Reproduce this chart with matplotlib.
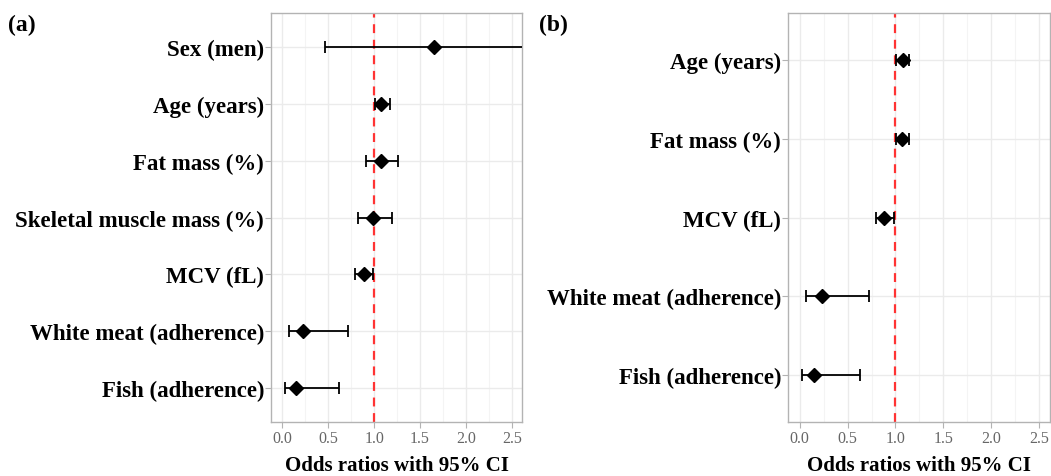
import numpy as np
import matplotlib
matplotlib.use('Agg')
import matplotlib.pyplot as plt
from matplotlib.ticker import MultipleLocator

# panel (a)
labels_a = ["Sex (men)", "Age (years)", "Fat mass (%)", "Skeletal muscle mass (%)",
            "MCV (fL)", "White meat (adherence)", "Fish (adherence)"]
or_a = [1.65, 1.08, 1.08, 0.99, 0.89, 0.23, 0.15]
lo_a = [0.47, 1.01, 0.91, 0.82, 0.79, 0.07, 0.03]
hi_a = [3.40, 1.17, 1.26, 1.19, 0.99, 0.72, 0.62]

# panel (b)
labels_b = ["Age (years)", "Fat mass (%)", "MCV (fL)",
            "White meat (adherence)", "Fish (adherence)"]
or_b = [1.08, 1.07, 0.88, 0.23, 0.15]
lo_b = [1.01, 1.01, 0.80, 0.07, 0.03]
hi_b = [1.14, 1.14, 0.98, 0.72, 0.63]

xticks = [0.0, 0.5, 1.0, 1.5, 2.0, 2.5]

plt.rcParams['font.family'] = ['Liberation Serif', 'DejaVu Serif']

fig = plt.figure(figsize=(10.51, 4.77), dpi=100)


def forest(ax, labels, est, lo, hi):
    n = len(labels)
    y = np.arange(n, 0, -1)
    est = np.array(est)
    err = [est - np.array(lo), np.array(hi) - est]
    ax.set_xlim(-0.12, 2.61)
    ax.set_ylim(0.4, n + 0.6)
    ax.xaxis.set_major_locator(MultipleLocator(0.5))
    ax.xaxis.set_minor_locator(MultipleLocator(0.25))
    ax.grid(which='major', color='#ebebeb', lw=1.0, zorder=0)
    ax.grid(which='minor', axis='x', color='#f4f4f4', lw=0.8, zorder=0)
    ax.axvline(1.0, color='#ff3333', ls=(0, (4, 3)), lw=1.6, zorder=2)
    ax.errorbar(est, y, xerr=err, fmt='D', color='black', ms=7,
                elinewidth=1.3, capsize=4, capthick=1.3, zorder=3)
    ax.set_yticks(y)
    ax.set_yticklabels(labels, fontsize=16.5, fontweight='bold')
    ax.set_xticks(xticks)
    ax.set_xticklabels([f"{t:.1f}" for t in xticks], fontsize=11.5, color='#666666')
    ax.tick_params(which='major', color='#b3b3b3', length=4, width=0.8, pad=1)
    ax.tick_params(axis='x', pad=2)
    ax.tick_params(which='minor', length=0)
    for s in ax.spines.values():
        s.set_color('#b3b3b3')
        s.set_linewidth(1.0)
    ax.set_xlabel("Odds ratios with 95% CI", fontsize=15, fontweight='bold', labelpad=6)
    ax.set_axisbelow(True)


ax1 = fig.add_axes([0.258, 0.113, 0.2387, 0.8575])
forest(ax1, labels_a, or_a, lo_a, hi_a)
ax2 = fig.add_axes([0.7498, 0.113, 0.2492, 0.8575])
forest(ax2, labels_b, or_b, lo_b, hi_b)

fig.text(0.008, 0.947, "(a)", fontsize=17, fontweight='bold', va='center')
fig.text(0.513, 0.947, "(b)", fontsize=17, fontweight='bold', va='center')

fig.savefig("out.png", dpi=100)
